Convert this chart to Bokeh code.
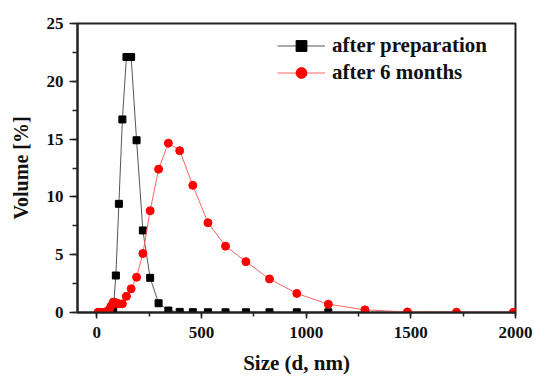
from bokeh.plotting import figure
from bokeh.models import Range1d, SingleIntervalTicker, Legend, LegendItem
from bokeh.embed import file_html
from bokeh.resources import INLINE

# Data (Zetasizer size bins, nm) and volume %
prep_size = [50.75, 58.77, 68.06, 78.82, 91.28, 105.7, 122.4, 141.8, 164.2, 190.1,
             220.2, 255.0, 295.3, 342.0, 396.1, 458.7, 531.2, 615.1, 712.4, 825.0,
             955.4, 1106]
prep_vol = [0.0, 0.0, 0.0, 0.2, 3.2, 9.4, 16.7, 22.1, 22.1, 14.9,
            7.1, 3.0, 0.8, 0.17, 0.05, 0.03, 0.02, 0.02, 0.02, 0.02,
            0.02, 0.02]

aged_size = [5.615, 6.503, 7.531, 8.721, 10.1, 11.7, 13.54, 15.69, 18.17, 21.04,
             24.36, 28.21, 32.67, 37.84, 43.82, 50.75, 58.77, 68.06, 78.82, 91.28,
             105.7, 122.4, 141.8, 164.2, 190.1, 220.2, 255.0, 295.3, 342.0, 396.1,
             458.7, 531.2, 615.1, 712.4, 825.0, 955.4, 1106, 1281, 1484, 1718, 1990]
aged_vol = [0, 0, 0, 0, 0, 0, 0, 0, 0, 0,
            0, 0, 0, 0.02, 0.05, 0.1, 0.25, 0.55, 0.9, 0.85,
            0.75, 0.75, 1.4, 2.05, 3.05, 5.1, 8.8, 12.4, 14.65, 14.0,
            11.0, 7.76, 5.74, 4.4, 2.9, 1.65, 0.72, 0.23, 0.05, 0.03, 0.02]

x_ticks_interval = 500
y_ticks_interval = 5

FONT = "Liberation Serif"

p = figure(width=534, height=379, output_backend="svg", toolbar_location=None,
           x_range=Range1d(-92, 2000), y_range=Range1d(0, 25),
           min_border_left=77, min_border_right=19, min_border_top=23,
           min_border_bottom=67)
p.background_fill_color = "white"
p.border_fill_color = "white"
p.xgrid.visible = False
p.ygrid.visible = False
p.outline_line_color = "#222222"
p.outline_line_width = 2

p.xaxis.ticker = SingleIntervalTicker(interval=x_ticks_interval, num_minor_ticks=2)
p.yaxis.ticker = SingleIntervalTicker(interval=y_ticks_interval, num_minor_ticks=2)

for ax in (p.xaxis[0], p.yaxis[0]):
    ax.axis_line_width = 2
    ax.axis_line_color = "#222222"
    ax.major_tick_line_color = "#222222"
    ax.minor_tick_line_color = "#222222"
    ax.major_tick_line_width = 1.5
    ax.minor_tick_line_width = 1.5
    ax.major_tick_in = 0
    ax.minor_tick_in = 0
    ax.major_label_text_font = FONT
    ax.major_label_text_font_style = "bold"
    ax.major_label_text_font_size = "17px"
    ax.major_label_text_color = "#111111"
    ax.axis_label_text_font = FONT
    ax.axis_label_text_font_style = "bold"
    ax.axis_label_text_color = "#111111"

p.xaxis.major_tick_out = 6
p.xaxis.minor_tick_out = 4
p.yaxis.major_tick_out = 8
p.yaxis.minor_tick_out = 5
p.xaxis.major_label_standoff = 8
p.yaxis.major_label_standoff = 6
p.xaxis.axis_label = "Size (d, nm)"
p.yaxis.axis_label = "Volume [%]"
p.xaxis.axis_label_text_font_size = "21px"
p.yaxis.axis_label_text_font_size = "20px"
p.xaxis.axis_label_standoff = 10
p.yaxis.axis_label_standoff = 12

l1 = p.line(prep_size, prep_vol, line_color="#555555", line_width=1)
s1 = p.scatter(prep_size, prep_vol, marker="square", size=7,
               fill_color="black", line_color="black")
l2 = p.line(aged_size, aged_vol, line_color="#ff6666", line_width=1)
s2 = p.scatter(aged_size, aged_vol, marker="circle", size=8,
               fill_color="#ff0000", line_color="#ff0000")

legend = Legend(items=[
    LegendItem(label="after preparation", renderers=[l1, s1]),
    LegendItem(label="after 6 months", renderers=[l2, s2]),
], location=(200, 226))
legend.border_line_alpha = 0
legend.background_fill_alpha = 0
legend.padding = 0
legend.margin = 0
legend.spacing = 0
legend.glyph_width = 48
legend.glyph_height = 27
legend.label_height = 27
legend.label_standoff = 7
legend.label_text_font = FONT
legend.label_text_font_style = "bold"
legend.label_text_font_size = "21px"
legend.label_text_color = "#111111"
p.add_layout(legend, "center")

open("out.html", "w").write(file_html(p, INLINE))
